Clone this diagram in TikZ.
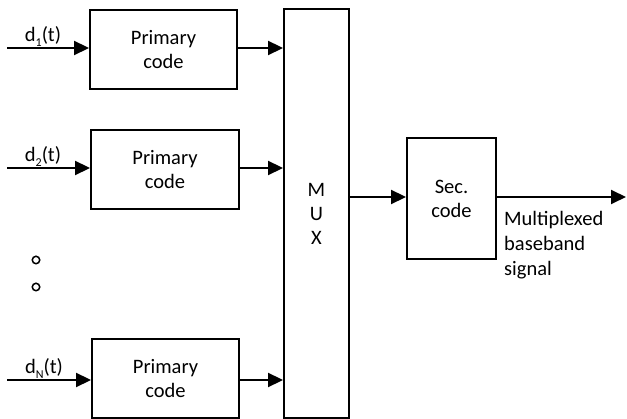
\documentclass[tikz,border=0pt]{standalone}
\usepackage{fontspec}
\setmainfont{Carlito}
\usetikzlibrary{arrows.meta}
\newcommand{\lowsub}[1]{\raisebox{-0.45ex}{\fontsize{12}{12}\selectfont #1}}
\begin{document}
\begin{tikzpicture}[x=1pt,y=-1pt,
  blk/.style={draw,line width=1.9pt,rectangle,inner sep=0pt,align=center,
    font=\fontsize{20.5}{24}\selectfont},
  sig/.style={line width=1.9pt,-{Triangle[length=15pt,width=14pt]}},
  lbl/.style={font=\fontsize{20.5}{24}\selectfont,inner sep=0pt},
  dot/.style={draw,line width=1.5pt,circle,minimum size=7.5pt,inner sep=0pt}]
\useasboundingbox (0,0) rectangle (627,419);

% primary coders
\node[blk,minimum width=147pt,minimum height=79pt] (b1) at (163.5,49.5) {Primary\\code};
\node[blk,minimum width=148pt,minimum height=79pt] (b2) at (165,169.5) {Primary\\code};
\node[blk,minimum width=147pt,minimum height=79pt] (bN) at (165.5,378.5) {Primary\\code};

% multiplexer and secondary coder
\node[blk,minimum width=65pt,minimum height=409pt] (mux) at (316.5,213.5) {M\\U\\X};
\node[blk,minimum width=89pt,minimum height=121pt] (sec) at (451.5,198.5) {Sec.\\code};

% input signals
\coordinate (i1) at (7,48);
\coordinate (i2) at (7,168);
\coordinate (iN) at (7,380);
\draw[sig] (i1) -- (i1 -| b1.west);
\draw[sig] (i2) -- (i2 -| b2.west);
\draw[sig] (iN) -- (iN -| bN.west);
\node[lbl,anchor=base] (l1) at (43,42) {d\lowsub{1}(t)};
\node[lbl,anchor=base] (l2) at (43,162) {d\lowsub{2}(t)};
\node[lbl,anchor=base] (lN) at (44,374) {d\lowsub{N}(t)};

% ellipsis dots
\node[dot] (d1) at (36,260) {};
\node[dot] (d2) at (36,287) {};

% coder outputs into the multiplexer
\draw[sig] (b1.east |- i1) -- (mux.west |- i1);
\draw[sig] (b2.east |- i2) -- (mux.west |- i2);
\draw[sig] (bN.east |- iN) -- (mux.west |- iN);

% multiplexer to secondary coder and output
\coordinate (o) at (626,197);
\draw[sig] (mux.east |- o) -- (sec.west |- o);
\draw[sig] (sec.east |- o) -- (o);
\node[lbl,anchor=north west,align=left,font=\fontsize{20.5}{25}\selectfont] (out) at (504,211)
  {Multiplexed\\baseband\\signal};
\end{tikzpicture}
\end{document}
